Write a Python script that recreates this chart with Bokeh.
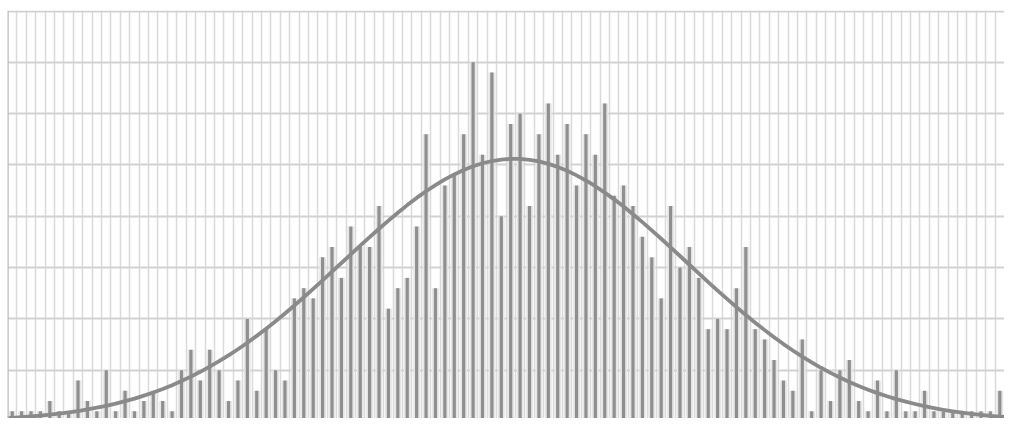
from bokeh.plotting import figure
from bokeh.models import Range1d, FixedTicker, Span, ColumnDataSource
from bokeh.embed import file_html
from bokeh.resources import INLINE

# Histogram counts per bin (106 bins)
counts = [1, 1, 1, 1, 2, 1, 1, 4, 2, 1,
          5, 1, 3, 1, 2, 3, 2, 1, 5, 7,
          4, 7, 5, 2, 4, 10, 3, 9, 5, 4,
          12, 13, 12, 16, 17, 14, 19, 17, 17, 21,
          11, 13, 14, 19, 28, 13, 23, 24, 28, 35,
          26, 34, 20, 29, 30, 21, 28, 31, 26, 29,
          23, 28, 26, 31, 22, 23, 21, 18, 16, 12,
          21, 15, 17, 14, 9, 10, 9, 13, 17, 9,
          8, 6, 4, 3, 8, 1, 5, 2, 5, 6,
          2, 1, 4, 1, 5, 1, 1, 3, 1, 1,
          1, 1, 1, 1, 1, 3]

# Fitted curve height at each bin centre
curve = [0.37, 0.43, 0.50, 0.58, 0.67, 0.78, 0.90, 1.03, 1.18, 1.35,
         1.54, 1.75, 1.99, 2.24, 2.53, 2.84, 3.18, 3.55, 3.95, 4.38,
         4.85, 5.35, 5.88, 6.45, 7.05, 7.68, 8.35, 9.05, 9.78, 10.53,
         11.31, 12.11, 12.93, 13.76, 14.60, 15.45, 16.29, 17.14, 17.97, 18.79,
         19.58, 20.35, 21.09, 21.79, 22.44, 23.04, 23.59, 24.08, 24.51, 24.87,
         25.17, 25.38, 25.53, 25.60, 25.59, 25.50, 25.35, 25.11, 24.81, 24.43,
         23.99, 23.49, 22.93, 22.31, 21.65, 20.95, 20.20, 19.43, 18.63, 17.81,
         16.97, 16.13, 15.28, 14.43, 13.59, 12.76, 11.95, 11.15, 10.38, 9.63,
         8.91, 8.22, 7.55, 6.93, 6.33, 5.77, 5.24, 4.75, 4.29, 3.86,
         3.47, 3.11, 2.77, 2.47, 2.19, 1.94, 1.71, 1.50, 1.32, 1.15,
         1.00, 0.87, 0.76, 0.65, 0.56, 0.48]
curve_left_edge = 0.34
curve_right_edge = 0.45

y_ticks = [0, 5, 10, 15, 20, 25, 30, 35, 40]

n = len(counts)
centers = [i + 0.5 for i in range(n)]

p = figure(width=1004, height=418, output_backend="svg", toolbar_location=None,
           x_range=Range1d(0, n), y_range=Range1d(0.3, 40.05))
p.min_border_left = 7
p.min_border_right = 0
p.min_border_top = 10
p.min_border_bottom = 0
p.xaxis.visible = False
p.yaxis.visible = False
p.outline_line_color = None
p.background_fill_color = "white"
p.border_fill_color = "white"

p.xgrid.ticker = FixedTicker(ticks=list(range(0, n + 1)))
p.xgrid.grid_line_color = "#dadada"
p.xgrid.grid_line_width = 1.5
p.ygrid.ticker = FixedTicker(ticks=y_ticks)
p.ygrid.grid_line_color = "#d2d2d2"
p.ygrid.grid_line_width = 2

src = ColumnDataSource(dict(x=centers, top=counts))
# soft halo around the thin bars
p.vbar(x="x", top="top", bottom=0, width=0.72, source=src,
       fill_color="#e6e6e6", line_color=None)
p.vbar(x="x", top="top", bottom=0, width=0.34, source=src,
       fill_color="#8f8f8f", line_color=None)

cx = [0] + centers + [n]
cy = [curve_left_edge] + curve + [curve_right_edge]
p.line(cx, cy, line_color="#8a8a8a", line_width=3.8, line_join="round")

p.add_layout(Span(location=0, dimension="height", line_color="#bdbdbd", line_width=2.5))

open("out.html", "w").write(file_html(p, INLINE))
